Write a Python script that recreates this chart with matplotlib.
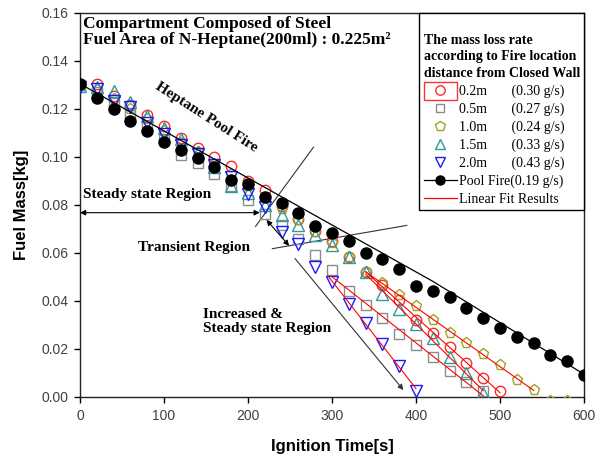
import numpy as np
import matplotlib
matplotlib.use("Agg")
import matplotlib.pyplot as plt
from matplotlib.lines import Line2D
from matplotlib.patches import Rectangle

# ==========================================
# Data
# ==========================================
t_pool = np.arange(0, 601, 20)
m_pool = [0.1305, 0.1245, 0.1199, 0.1148, 0.1107, 0.1062, 0.1030, 0.0995, 0.0958, 0.0906,
          0.0889, 0.0834, 0.0810, 0.0768, 0.0713, 0.0682, 0.0650, 0.0602, 0.0573, 0.0535,
          0.0462, 0.0441, 0.0415, 0.0369, 0.0331, 0.0288, 0.0248, 0.0226, 0.0175, 0.0150,
          0.0090]
# fitted pool fire line (as drawn)
pool_line_t = [0, 210, 420, 600]
pool_line_m = [0.1305, 0.0893, 0.0482, 0.0095]

t_02 = np.arange(0, 501, 20)
m_02 = [0.1300, 0.1304, 0.1255, 0.1215, 0.1173, 0.1131, 0.1080, 0.1037, 0.1002, 0.0962,
        0.0902, 0.0861, 0.0795, 0.0740, 0.0690, 0.0652, 0.0585, 0.0520, 0.0466, 0.0405,
        0.0320, 0.0265, 0.0209, 0.0140, 0.0078, 0.0026]

t_05 = np.arange(0, 481, 20)
m_05 = [0.1300, 0.1270, 0.1225, 0.1180, 0.1130, 0.1070, 0.1008, 0.0975, 0.0930, 0.0880,
        0.0819, 0.0764, 0.0715, 0.0660, 0.0592, 0.0528, 0.0443, 0.0385, 0.0329, 0.0264,
        0.0216, 0.0168, 0.0108, 0.0064, 0.0026]

t_10 = np.arange(0, 581, 20)
m_10 = [0.1300, 0.1280, 0.1240, 0.1200, 0.1160, 0.1110, 0.1060, 0.1020, 0.0970, 0.0930,
        0.0880, 0.0830, 0.0785, 0.0736, 0.0688, 0.0640, 0.0585, 0.0520, 0.0475, 0.0424,
        0.0380, 0.0320, 0.0267, 0.0223, 0.0180, 0.0133, 0.0071, 0.0030, -0.0015, -0.0015]

t_15 = np.arange(0, 481, 20)
m_15 = [0.1295, 0.1290, 0.1276, 0.1231, 0.1171, 0.1120, 0.1075, 0.1020, 0.0960, 0.0881,
        0.0850, 0.0800, 0.0757, 0.0717, 0.0674, 0.0632, 0.0583, 0.0519, 0.0431, 0.0367,
        0.0306, 0.0247, 0.0167, 0.0102, 0.0016]

t_20 = np.arange(0, 401, 20)
m_20 = [0.1290, 0.1284, 0.1235, 0.1207, 0.1141, 0.1096, 0.1052, 0.1014, 0.0965, 0.0916,
        0.0847, 0.0790, 0.0688, 0.0639, 0.0543, 0.0480, 0.0388, 0.0310, 0.0221, 0.0129,
        0.0026]

# linear fit windows (start, end) in seconds
fit_02 = (340, 500)
fit_05 = (300, 480)
fit_10 = (340, 540)
fit_15 = (340, 480)
fit_20 = (295, 400)

# ==========================================
# Figure
# ==========================================
fig = plt.figure(figsize=(6.05, 4.57), dpi=100)
ax = fig.add_axes([80 / 605, 60 / 457, 504 / 605, 384 / 457])

series = [
    (t_02, m_02, fit_02, "o", "#ff2a2a", 7.5, "0.2m       (0.30 g/s)"),
    (t_05, m_05, fit_05, "s", "#8c8c8c", 6.5, "0.5m       (0.27 g/s)"),
    (t_10, m_10, fit_10, "p", "#a3a326", 8.0, "1.0m       (0.24 g/s)"),
    (t_15, m_15, fit_15, "^", "#2f9a9a", 8.0, "1.5m       (0.33 g/s)"),
    (t_20, m_20, fit_20, "v", "#1a1aff", 8.0, "2.0m       (0.43 g/s)"),
]

handles = []
labels = []
for t, m, fit, mk, col, ms, lab in series:
    t = np.asarray(t)
    m = np.asarray(m)
    ax.plot(t, m, linestyle="none", marker=mk, ms=ms, mfc="none", mec=col, mew=1.0, zorder=3)
    # linear fit over the final steady region
    sel = (t >= fit[0] - 5) & (t <= fit[1])
    k, b = np.polyfit(t[sel], m[sel], 1)
    tt = np.array([fit[0], fit[1]])
    ax.plot(tt, k * tt + b, color="red", lw=0.8, zorder=4)
    handles.append(Line2D([], [], linestyle="none", marker=mk, ms=ms * 0.9, mfc="none", mec=col, mew=1.0))
    labels.append(lab)

ax.plot(pool_line_t, pool_line_m, color="black", lw=0.9, zorder=5)
ax.plot(t_pool, m_pool, linestyle="none", marker="o", ms=8, color="black", zorder=6)

handles.append(Line2D([], [], color="black", lw=0.9, marker="o", ms=6.5))
labels.append("Pool Fire(0.19 g/s)")
handles.append(Line2D([], [], color="red", lw=0.9))
labels.append("Linear Fit Results")

# ==========================================
# Axes styling
# ==========================================
ax.set_xlim(0, 600)
ax.set_ylim(0, 0.16)
ax.set_xticks(np.arange(0, 601, 100))
ax.set_yticks(np.arange(0, 0.161, 0.02))
ax.set_yticklabels([f"{v:.2f}" for v in np.arange(0, 0.161, 0.02)])
ax.tick_params(direction="out", length=4.5, width=1, labelsize=10, labelcolor="#404040",
               top=False, right=False, pad=4)
for lab in ax.get_xticklabels() + ax.get_yticklabels():
    lab.set_family("Liberation Sans")
for sp in ax.spines.values():
    sp.set_linewidth(1.0)
    sp.set_color("#222222")

ax.set_xlabel("Ignition Time[s]", fontsize=12, fontweight="bold", family="Liberation Sans", labelpad=12)
ax.set_ylabel("Fuel Mass[kg]", fontsize=12, fontweight="bold", family="Liberation Sans", labelpad=9)

# ==========================================
# Annotations
# ==========================================
serif_bold = dict(family="Liberation Serif", fontweight="bold")

ax.text(0.006, 0.993, "Compartment Composed of Steel\nFuel Area of N-Heptane(200ml) : 0.225m\u00b2",
        transform=ax.transAxes, ha="left", va="top", fontsize=12.5, linespacing=1.0, **serif_bold)

ax.text(150, 0.1167, "Heptane Pool Fire", rotation=-32.5, rotation_mode="anchor",
        ha="center", va="center", fontsize=11, **serif_bold)

ax.text(3, 0.0842, "Steady state Region", ha="left", va="center", fontsize=11, **serif_bold)
ax.annotate("", xy=(0, 0.0768), xytext=(214, 0.0768),
            arrowprops=dict(arrowstyle="<|-|>", color="black", lw=0.8, mutation_scale=8,
                            shrinkA=0, shrinkB=0))

ax.text(69, 0.0625, "Transient Region", ha="left", va="center", fontsize=11, **serif_bold)
ax.plot([229, 389], [0.0618, 0.0715], color="#333333", lw=0.8)
ax.plot([209, 278], [0.0711, 0.1041], color="#333333", lw=0.8)
ax.annotate("", xy=(222, 0.0738), xytext=(249, 0.0630),
            arrowprops=dict(arrowstyle="<|-|>", color="black", lw=0.8, mutation_scale=8,
                            shrinkA=0, shrinkB=0))

ax.text(147, 0.0315, "Increased &\nSteady state Region", ha="left", va="center",
        fontsize=11, linespacing=1.15, **serif_bold)
ax.annotate("", xy=(385, 0.0029), xytext=(256, 0.0577),
            arrowprops=dict(arrowstyle="-|>", color="#333333", lw=0.8, mutation_scale=8,
                            shrinkA=0, shrinkB=0))

# ==========================================
# Legend
# ==========================================
leg = ax.legend(handles, labels, loc="upper right", borderaxespad=0, fancybox=False,
                frameon=True, edgecolor="black", framealpha=1, handlelength=2.4,
                handletextpad=0.15, labelspacing=0.33, borderpad=0.3,
                title="\nThe mass loss rate\naccording to Fire location\ndistance from Closed Wall",
                title_fontproperties=dict(family="Liberation Serif", weight="bold", size=10),
                prop=dict(family="Liberation Serif", size=10), alignment="left")
leg.get_title().set_linespacing(1.35)
leg.get_frame().set_linewidth(1.0)
leg.set_zorder(10)

# selection box around the first legend symbol (as in the source figure)
fig.canvas.draw()
bb = leg.get_texts()[0].get_window_extent()
inv = fig.transFigure.inverted()
yc = (bb.y0 + bb.y1) / 2
(x0, y0), (x1, y1) = inv.transform([(bb.x0 - 35, yc - 9), (bb.x0 - 2, yc + 9)])
fig.patches.append(Rectangle((x0, y0), x1 - x0, y1 - y0, transform=fig.transFigure,
                             fill=False, edgecolor="#ff3030", lw=1.0, zorder=20))

fig.savefig("out.png", dpi=100)
